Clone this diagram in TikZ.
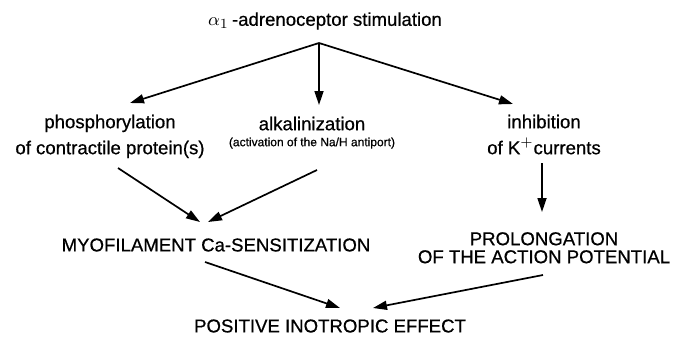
\documentclass[tikz,border=0pt]{standalone}
\usepackage{fontspec}
\setmainfont{Liberation Sans}[FakeBold=0.6]
\usetikzlibrary{arrows.meta,calc}

\begin{document}
\begin{tikzpicture}[x=0.5pt,y=-0.5pt,
    every node/.style={inner sep=0pt,font=\fontsize{9.3}{13}\selectfont},
    arr/.style={-{Triangle[length=7pt,width=4.5pt]},line width=0.85pt}]
  \useasboundingbox (0,0) rectangle (673,337);

  \coordinate (apex) at (319,43);
  \node (stim) at (325,21) {$\alpha_1$\,-adrenoceptor stimulation};
  \node (phos) at (110,136) {
    \begin{tabular}{@{}c@{}}
      phosphorylation \\
      of contractile protein(s)
    \end{tabular}
  };
  \node (alk) at (312,133) {
    \begin{tabular}{@{}c@{}}
      alkalinization \\[-5pt]
      {\fontsize{6}{7}\selectfont (activation of the Na/H antiport)}
    \end{tabular}
  };
  \node (inh) at (544,136) {
    \begin{tabular}{@{}c@{}}
      inhibition \\
      of K$^{+}$currents
    \end{tabular}
  };
  \node (myo) at (216,245) {MYOFILAMENT Ca-SENSITIZATION};
  \node (prol) at (544,249) {
    \begin{tabular}{@{}c@{}}
      PROLONGATION \\[-4pt]
      OF THE ACTION POTENTIAL
    \end{tabular}
  };
  \node (pos) at (330,326) {POSITIVE INOTROPIC EFFECT};

  \draw[arr] (apex) -- ($(phos)+(20,-33)$);
  \draw[arr] (apex) -- ($(alk)+(7,-28)$);
  \draw[arr] (apex) -- ($(inh)+(-31,-32)$);
  \draw[arr] ($(phos)+(8,32)$) -- ($(myo)+(-16,-23)$);
  \draw[arr] ($(alk)+(5,37)$) -- ($(myo)+(-8,-23)$);
  \draw[arr] ($(inh)+(-2,27)$) -- ($(prol)+(-2,-37)$);
  \draw[arr] ($(myo)+(-11,17)$) -- ($(pos)+(10,-18)$);
  \draw[arr] ($(prol)+(-1,26)$) -- ($(pos)+(43,-18)$);
\end{tikzpicture}
\end{document}
